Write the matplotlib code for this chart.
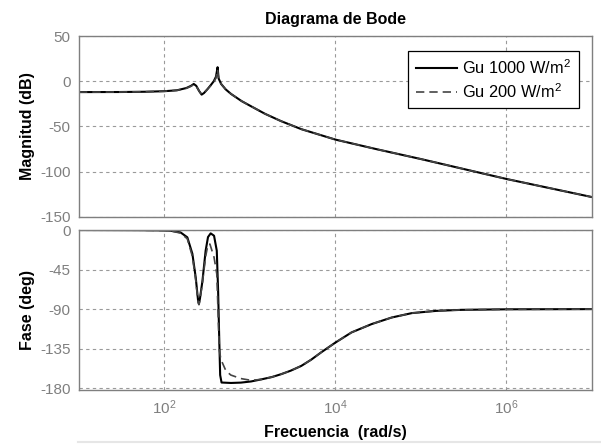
import matplotlib
matplotlib.use('Agg')

import matplotlib.pyplot as plt
from matplotlib.lines import Line2D

w_mag = [10, 30, 60, 100, 140, 180, 205, 220, 235, 255, 272, 290, 320, 350,
         377, 400, 412, 418, 430, 460, 520, 600, 800, 1000, 1500, 2300, 4000,
         1e4, 3e4, 1e5, 1e6, 1e7]
mag_1000 = [-12, -11.9, -11.6, -11, -10, -7.5, -5, -3, -5, -11, -14.8, -13,
            -8.5, -4, 0, 5, 12, 15.5, 3, -3, -9, -14, -22, -27, -36, -44, -53,
            -64.5, -75, -86, -108, -128]
mag_200 = [-12, -11.9, -11.6, -11, -10, -7.8, -5.5, -3.5, -5.5, -11, -14.5,
           -13, -8.5, -4.5, -1, 3.5, 10, 13, 2.5, -3, -9, -14, -22, -27, -36,
           -44, -53, -64.5, -75, -86, -108, -128]

w_fase_1000 = [10, 50, 100, 118, 154, 185, 212, 232, 247, 253, 260, 278, 303,
               323, 347, 380, 409, 424, 436, 448, 465, 600, 783, 1028, 1346,
               1800, 2316, 3000, 3981, 5200, 6844, 1e4, 15400, 26500, 45600,
               78400, 1.5e5, 3e5, 1e6, 1e7]
fase_1000 = [0, -0.2, -0.5, -0.8, -2.7, -8.3, -27, -54, -80, -84, -78, -58,
             -23.5, -8, -3.8, -6.5, -23.5, -69, -120, -165, -173.5, -174,
             -173.6, -172.3, -170, -167.3, -164, -160, -154.6, -147.5, -139,
             -128, -116.5, -107, -99.5, -94.5, -92, -90.8, -90.2, -90]

w_fase_200 = [10, 50, 100, 118, 154, 185, 212, 232, 247, 253, 260, 278, 303,
              323, 340, 380, 409, 424, 436, 456, 522, 597, 783, 1028, 1346,
              1800, 2316, 3000, 3981, 5200, 6844, 1e4, 15400, 26500, 45600,
              78400, 1.5e5, 3e5, 1e6, 1e7]
fase_200 = [0, -0.2, -0.6, -1, -3.5, -10, -30, -57, -82, -85, -79, -60, -30,
            -16.5, -16, -31, -50, -95, -135, -147, -160, -165, -169, -171,
            -170, -167.3, -164, -160, -154.6, -147.5, -139, -128, -116.5,
            -107, -99.5, -94.5, -92, -90.8, -90.2, -90]

etiqueta_1000 = r'Gu 1000 W/m$^2$'
etiqueta_200 = r'Gu 200 W/m$^2$'

_GRIS = '#7f7f7f'
_GRID = '#9a9a9a'

plt.rcParams.update({
    'font.family': 'Liberation Sans',
    'mathtext.fontset': 'custom',
    'mathtext.rm': 'Liberation Sans',
    'mathtext.it': 'Liberation Sans',
    'axes.unicode_minus': False,
    'font.size': 11,
})

fig = plt.figure(figsize=(6.01, 4.45), dpi=100, facecolor='white')
ax1 = fig.add_axes([0.1314, 0.5124, 0.8536, 0.4067])
ax2 = fig.add_axes([0.1314, 0.1236, 0.8536, 0.3595])


def _estilo(ax):
    ax.set_xscale('log')
    ax.set_xlim(10, 1e7)
    ax.set_xticks([1e2, 1e4, 1e6])
    ax.minorticks_off()
    ax.tick_params(length=0, colors=_GRIS, labelsize=11, pad=6)
    for s in ax.spines.values():
        s.set_color(_GRIS)
        s.set_linewidth(1.0)
    ax.grid(True, linestyle=(0, (3, 3)), color=_GRID, linewidth=0.8)
    ax.set_axisbelow(True)


# magnitud
_estilo(ax1)
ax1.plot(w_mag, mag_1000, color='black', linewidth=1.5, label=etiqueta_1000)
ax1.plot(w_mag, mag_200, color='#444444', linewidth=1.2, linestyle=(0, (5, 3)),
         label=etiqueta_200)
ax1.set_ylim(-150, 50)
ax1.set_yticks([50, 0, -50, -100, -150])
ax1.set_xticklabels([])
ax1.set_ylabel('Magnitud (dB)', fontweight='bold', fontsize=11.5, labelpad=4)
ax1.set_title('Diagrama de Bode', fontweight='bold', fontsize=11.5, pad=9)
leg = ax1.legend(loc='upper right', fontsize=11.8, fancybox=False,
                 framealpha=1, edgecolor='black', handlelength=2.5,
                 handletextpad=0.35, borderpad=0.45, labelspacing=0.35,
                 bbox_to_anchor=(0.99, 0.965))
leg.get_frame().set_linewidth(0.9)

# fase
_estilo(ax2)
ax2.plot(w_fase_1000, fase_1000, color='black', linewidth=1.5)
ax2.plot(w_fase_200, fase_200, color='#444444', linewidth=1.2,
         linestyle=(0, (5, 3)))
ax2.set_ylim(-182, 0)
ax2.set_yticks([0, -45, -90, -135, -180])
ax2.set_ylabel('Fase (deg)', fontweight='bold', fontsize=11.5, labelpad=4)
ax2.set_xlabel('Frecuencia  (rad/s)', fontweight='bold', fontsize=11.5,
               labelpad=6)

# línea tenue al pie de la captura
fig.add_artist(Line2D([0.13, 1.0], [0.007, 0.007], color='#e6e6e6',
                      linewidth=1.5, transform=fig.transFigure))

fig.savefig('out.png', dpi=100, facecolor='white')
